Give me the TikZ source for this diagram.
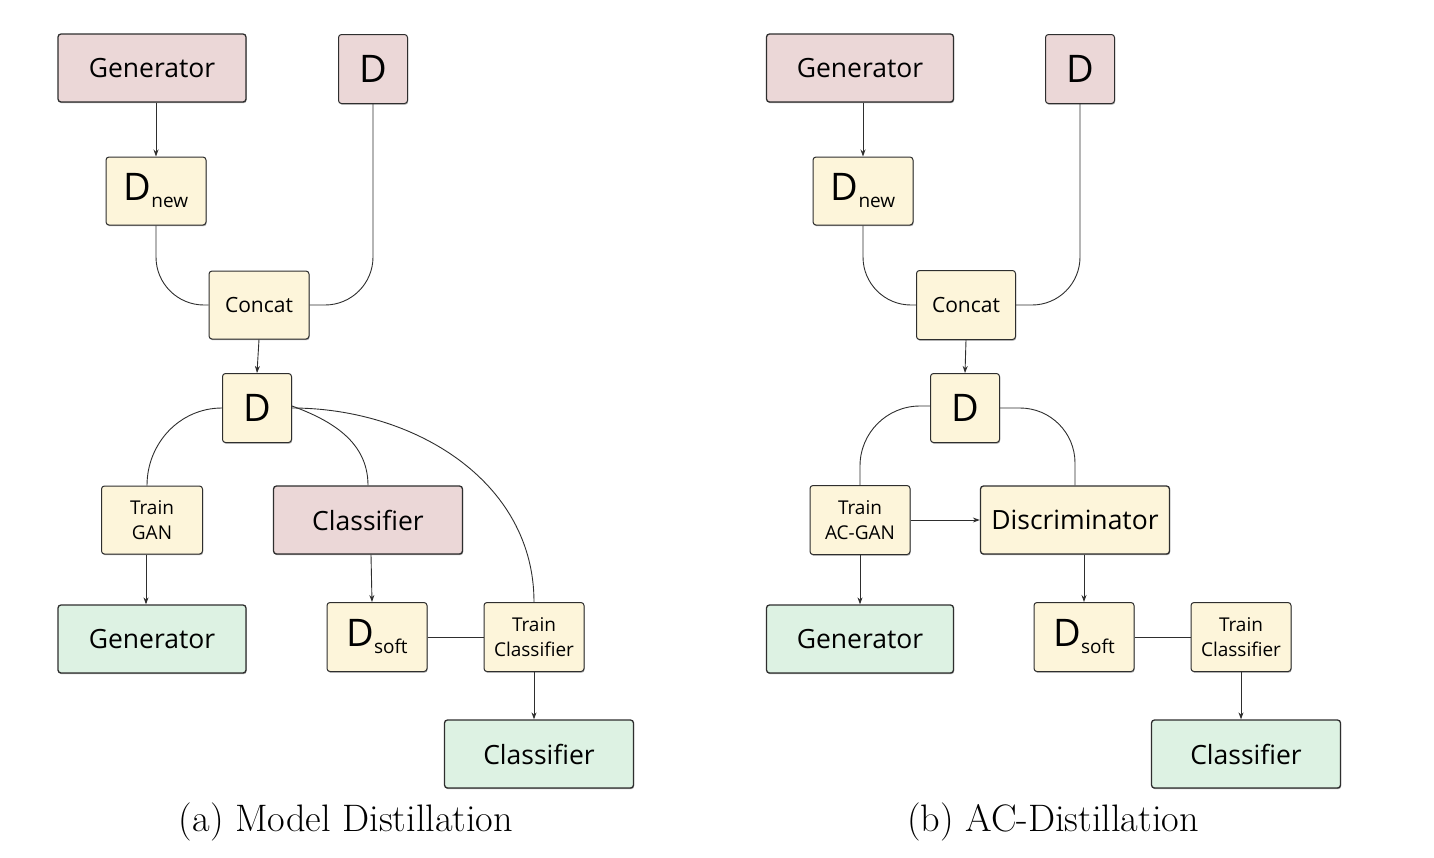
\documentclass[tikz,border=0pt]{standalone}
\usepackage{fontspec}
\newfontfamily\osans{Open Sans}
\usetikzlibrary{arrows.meta,shadows}
\definecolor{pinkfill}{HTML}{EBD7D7}
\definecolor{yelfill}{HTML}{FDF5DA}
\definecolor{grnfill}{HTML}{DDF2E3}
\definecolor{edge}{HTML}{2E2E2E}
\newcommand{\fs}[1]{\fontsize{#1}{#1}\selectfont}
\newcommand{\fsb}[2]{\fontsize{#1}{#2}\selectfont}
\newcommand{\Dsub}[1]{{\fs{38}D}{\fs{19}\raisebox{-7pt}{#1}}}
\tikzset{
  box/.style={draw=edge, rounded corners=3pt, line width=1pt, inner sep=0pt, align=center,
     font=\osans, drop shadow={shadow xshift=0.6pt, shadow yshift=-1.2pt, opacity=0.35, fill=black}},
  bigbox/.style={box, minimum width=188, minimum height=68, line width=1.3pt, font=\osans\fs{26.5}},
  sqbox/.style={box, minimum width=69, minimum height=69, font=\osans\fs{38}},
  medbox/.style={box, minimum width=100, minimum height=68},
  twoline/.style={font=\osans\fsb{19}{25}},
  pinkb/.style={fill=pinkfill},
  yelb/.style={fill=yelfill},
  grnb/.style={fill=grnfill},
  conn/.style={draw=edge, line width=0.9pt},
  arr/.style={conn, -{Stealth[length=7pt,width=5pt]}},
  caption/.style={font=\fs{38.3}, inner sep=0pt}
}
\begin{document}
\begin{tikzpicture}[x=1pt,y=-1pt]
\useasboundingbox (0,0) rectangle (1434,857);
% ---------------- (a) ----------------
\node[bigbox,pinkb] (aG) at (152,68) {Generator};
\node[sqbox,pinkb] (aD0) at (373,69) {D};
\node[medbox,yelb] (aDn) at (156,191) {\Dsub{new}};
\node[medbox,yelb,font=\osans\fs{21}] (aC) at (259,305) {Concat};
\node[sqbox,yelb] (aD) at (257,408) {D};
\node[medbox,yelb,twoline,minimum width=101] (aTG) at (152,520) {Train\\GAN};
\node[bigbox,pinkb,minimum width=189] (aCp) at (368,520) {Classifier};
\node[bigbox,grnb] (aG2) at (152,639) {Generator};
\node[medbox,yelb,minimum height=69] (aDs) at (377,637) {\Dsub{soft}};
\node[medbox,yelb,twoline,minimum height=69] (aTC) at (534,637) {Train\\Classifier};
\node[bigbox,grnb,minimum width=189] (aCg) at (539,754) {Classifier};
\node[caption] (capa) at (346,822) {(a) Model Distillation};

\draw[arr] (aG.south -| aDn.north) -- (aDn.north);
\draw[conn, rounded corners=48pt] (aDn.south) |- (aC.west);
\draw[conn, rounded corners=48pt] (aD0.south) |- (aC.east);
\draw[arr] (aC.south) -- (aD.north);
\draw[conn] (aD.west) to[out=180,in=90] ([xshift=-5]aTG.north);
\draw[conn] ([yshift=2]aD.east) to[out=-20,in=90] (aCp.north);
\draw[conn] (aD.east) to[out=0,in=90] (aTC.north);
\draw[arr] ([xshift=-6]aTG.south) -- ([xshift=-6]aG2.north);
\draw[arr] ([xshift=3]aCp.south) -- ([xshift=-5]aDs.north);
\draw[conn] (aDs.east) -- (aTC.west);
\draw[arr] (aTC.south) -- (aTC.south |- aCg.north);

% ---------------- (b) ----------------
\node[bigbox,pinkb,minimum width=187] (bG) at (860,68) {Generator};
\node[sqbox,pinkb] (bD0) at (1080,69) {D};
\node[medbox,yelb] (bDn) at (863,191) {\Dsub{new}};
\node[medbox,yelb,font=\osans\fs{21},minimum width=99,minimum height=69] (bC) at (966,305) {Concat};
\node[sqbox,yelb] (bD) at (965,408) {D};
\node[medbox,yelb,twoline,minimum height=69] (bTG) at (860,520) {Train\\AC-GAN};
\node[bigbox,yelb,minimum width=189] (bDisc) at (1075,520) {Discriminator};
\node[bigbox,grnb,minimum width=187] (bG2) at (860,639) {Generator};
\node[medbox,yelb,minimum height=69] (bDs) at (1084,637) {\Dsub{soft}};
\node[medbox,yelb,twoline,minimum height=69] (bTC) at (1241,637) {Train\\Classifier};
\node[bigbox,grnb,minimum width=189] (bCg) at (1246,754) {Classifier};
\node[caption] (capb) at (1053,822) {(b) AC-Distillation};

\draw[arr] (bG.south -| bDn.north) -- (bDn.north);
\draw[conn, rounded corners=48pt] (bDn.south) |- (bC.west);
\draw[conn, rounded corners=48pt] (bD0.south) |- (bC.east);
\draw[arr] (bC.south) -- (bD.north);
\draw[conn, rounded corners=60pt] ([yshift=2]bD.west) -| (bTG.north);
\draw[conn, rounded corners=55pt] (bD.east) -| (bDisc.north);
\draw[arr] (bTG.east) -- (bDisc.west);
\draw[arr] (bTG.south) -- (bG2.north);
\draw[arr] (bDs.north |- bDisc.south) -- (bDs.north);
\draw[conn] (bDs.east) -- (bTC.west);
\draw[arr] (bTC.south) -- (bTC.south |- bCg.north);
\end{tikzpicture}
\end{document}
